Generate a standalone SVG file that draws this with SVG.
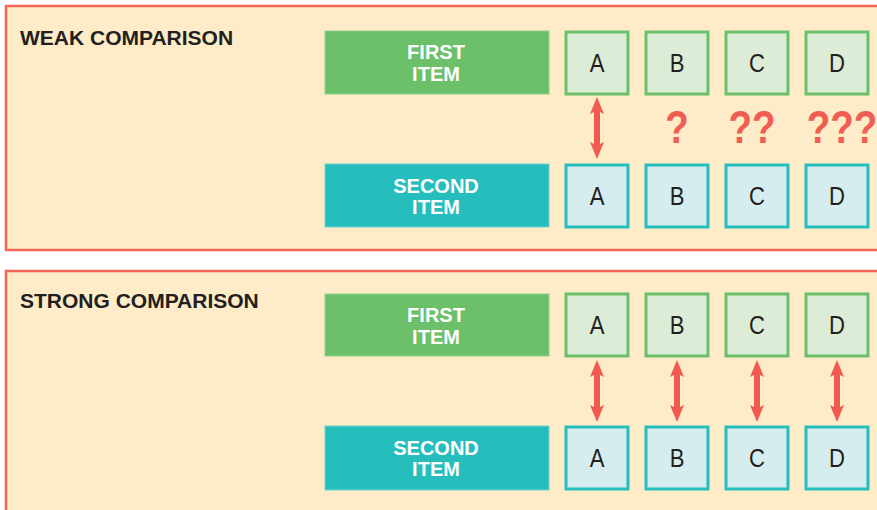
<svg xmlns="http://www.w3.org/2000/svg" width="877" height="510" viewBox="0 0 877 510">
  <style>
    .panel { fill: #feecc8; stroke: #f26656; stroke-width: 2.5; }
    .title { font-family: "Liberation Sans", Arial, sans-serif; font-weight: bold; font-size: 21px; fill: #231f20; }
    .bar-green { fill: #6cc069; stroke: #8fd08a; stroke-width: 1; }
    .bar-teal { fill: #26bdbd; stroke: #6fd3cf; stroke-width: 1; }
    .bar-label { font-family: "Liberation Sans", Arial, sans-serif; font-weight: bold; font-size: 20px; fill: #ffffff; text-anchor: middle; }
    .box-green { fill: #dcecd7; stroke: #6cc069; stroke-width: 3; }
    .box-teal { fill: #d5edee; stroke: #26bdbd; stroke-width: 3; }
    .box-label { font-family: "Liberation Sans", Arial, sans-serif; font-size: 26px; fill: #231f20; text-anchor: middle; }
    .qm { font-family: "Liberation Sans", Arial, sans-serif; font-weight: bold; font-size: 47px; fill: #f05d52; text-anchor: middle; }
    .arrow { fill: #f05a4f; }
  </style>
  <defs>
    <!-- double-headed vertical arrow, centred on x=0, length 62 -->
    <path id="dbl" class="arrow" d="M0,0 L7,17 L3,15 L3,47 L7,45 L0,62 L-7,45 L-3,47 L-3,15 L-7,17 Z"/>
  </defs>

  <rect width="877" height="510" fill="#ffffff"/>

  <!-- weak comparison panel -->
  <g id="panel-weak">
    <rect class="panel" x="6" y="6" width="890" height="244"/>
    <text class="title" x="20" y="45">WEAK COMPARISON</text>
  </g>
  <g id="weak-first">
    <rect class="bar-green" x="325" y="31" width="224" height="63"/>
    <text class="bar-label" x="436" y="59">FIRST</text>
    <text class="bar-label" x="436" y="81">ITEM</text>
  </g>
  <g id="weak-second">
    <rect class="bar-teal" x="325" y="164" width="224" height="63"/>
    <text class="bar-label" x="436" y="193">SECOND</text>
    <text class="bar-label" x="436" y="214">ITEM</text>
  </g>
  <g id="weak-first-A"><rect class="box-green" x="566" y="32" width="62" height="62"/><text class="box-label" transform="translate(597,72) scale(0.85,1)">A</text></g>
  <g id="weak-first-B"><rect class="box-green" x="646" y="32" width="62" height="62"/><text class="box-label" transform="translate(677,72) scale(0.85,1)">B</text></g>
  <g id="weak-first-C"><rect class="box-green" x="726" y="32" width="62" height="62"/><text class="box-label" transform="translate(757,72) scale(0.85,1)">C</text></g>
  <g id="weak-first-D"><rect class="box-green" x="806" y="32" width="62" height="62"/><text class="box-label" transform="translate(837,72) scale(0.85,1)">D</text></g>
  <g id="weak-second-A"><rect class="box-teal" x="566" y="165" width="62" height="62"/><text class="box-label" transform="translate(597,205) scale(0.85,1)">A</text></g>
  <g id="weak-second-B"><rect class="box-teal" x="646" y="165" width="62" height="62"/><text class="box-label" transform="translate(677,205) scale(0.85,1)">B</text></g>
  <g id="weak-second-C"><rect class="box-teal" x="726" y="165" width="62" height="62"/><text class="box-label" transform="translate(757,205) scale(0.85,1)">C</text></g>
  <g id="weak-second-D"><rect class="box-teal" x="806" y="165" width="62" height="62"/><text class="box-label" transform="translate(837,205) scale(0.85,1)">D</text></g>
  <g id="weak-unknowns">
    <text class="qm" transform="translate(677,143) scale(0.82,1)">?</text>
    <text class="qm" transform="translate(752,143) scale(0.82,1)">??</text>
    <text class="qm" transform="translate(842,143) scale(0.82,1)">???</text>
  </g>

  <!-- strong comparison panel -->
  <g id="panel-strong">
    <rect class="panel" x="6" y="271" width="890" height="260"/>
    <text class="title" x="20" y="308">STRONG COMPARISON</text>
  </g>
  <g id="strong-first">
    <rect class="bar-green" x="325" y="294" width="224" height="62"/>
    <text class="bar-label" x="436" y="322">FIRST</text>
    <text class="bar-label" x="436" y="344">ITEM</text>
  </g>
  <g id="strong-second">
    <rect class="bar-teal" x="325" y="426" width="224" height="64"/>
    <text class="bar-label" x="436" y="455">SECOND</text>
    <text class="bar-label" x="436" y="476">ITEM</text>
  </g>
  <g id="strong-first-A"><rect class="box-green" x="566" y="294" width="62" height="62"/><text class="box-label" transform="translate(597,334) scale(0.85,1)">A</text></g>
  <g id="strong-first-B"><rect class="box-green" x="646" y="294" width="62" height="62"/><text class="box-label" transform="translate(677,334) scale(0.85,1)">B</text></g>
  <g id="strong-first-C"><rect class="box-green" x="726" y="294" width="62" height="62"/><text class="box-label" transform="translate(757,334) scale(0.85,1)">C</text></g>
  <g id="strong-first-D"><rect class="box-green" x="806" y="294" width="62" height="62"/><text class="box-label" transform="translate(837,334) scale(0.85,1)">D</text></g>
  <g id="strong-second-A"><rect class="box-teal" x="566" y="427" width="62" height="62"/><text class="box-label" transform="translate(597,467) scale(0.85,1)">A</text></g>
  <g id="strong-second-B"><rect class="box-teal" x="646" y="427" width="62" height="62"/><text class="box-label" transform="translate(677,467) scale(0.85,1)">B</text></g>
  <g id="strong-second-C"><rect class="box-teal" x="726" y="427" width="62" height="62"/><text class="box-label" transform="translate(757,467) scale(0.85,1)">C</text></g>
  <g id="strong-second-D"><rect class="box-teal" x="806" y="427" width="62" height="62"/><text class="box-label" transform="translate(837,467) scale(0.85,1)">D</text></g>

  <!-- connectors -->
  <g id="connectors">
    <use href="#dbl" x="597" y="97"/>
    <use href="#dbl" x="597" y="360"/>
    <use href="#dbl" x="677" y="360"/>
    <use href="#dbl" x="757" y="360"/>
    <use href="#dbl" x="837" y="360"/>
  </g>
</svg>
